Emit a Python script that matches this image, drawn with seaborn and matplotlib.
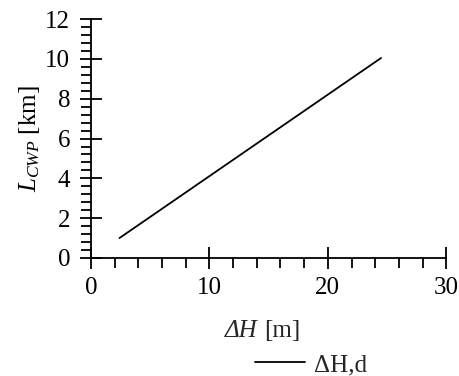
import matplotlib
matplotlib.use("Agg")
import matplotlib.pyplot as plt
import seaborn as sns
import pandas as pd
from matplotlib.ticker import MultipleLocator

# data
delta_h = [2.4, 24.5]
l_cwp = [1.0, 10.05]
series_name = "ΔH,d"

df = pd.DataFrame({"dH": delta_h, "L": l_cwp, "serie": series_name})

sns.set_style("ticks")
plt.rcParams['font.family'] = 'serif'
plt.rcParams['font.serif'] = ['Liberation Serif', 'Times New Roman', 'DejaVu Serif']
plt.rcParams['mathtext.fontset'] = 'custom'
plt.rcParams['mathtext.rm'] = 'Liberation Serif'
plt.rcParams['mathtext.it'] = 'Liberation Serif:italic'

fig = plt.figure(figsize=(4.6, 3.76), dpi=100)
ax = fig.add_axes([0.198, 0.314, 0.772, 0.635])

sns.lineplot(data=df, x="dH", y="L", hue="serie", palette=["black"],
             linewidth=1.3, ax=ax)

ax.set_xlim(0, 30)
ax.set_ylim(0, 12)
ax.xaxis.set_major_locator(MultipleLocator(10))
ax.xaxis.set_minor_locator(MultipleLocator(2))
ax.yaxis.set_major_locator(MultipleLocator(2))
ax.yaxis.set_minor_locator(MultipleLocator(0.4))

ax.tick_params(which="major", direction="inout", length=16, width=1.3,
               labelsize=18, color="black", labelcolor="black")
ax.tick_params(which="minor", direction="out", length=7, width=1.3, color="black")
ax.tick_params(axis="x", pad=6)
ax.tick_params(axis="y", pad=7)

for s in ["top", "right"]:
    ax.spines[s].set_visible(False)
for s in ["left", "bottom"]:
    ax.spines[s].set_color("black")
    ax.spines[s].set_linewidth(1.3)

# x label: italic "ΔH" followed by upright "[m]"
ax.set_xlabel("")
fig.text(0.560, 0.104, "ΔH", fontsize=18, fontstyle="italic", ha="right", va="baseline")
fig.text(0.574, 0.104, "[m]", fontsize=18, ha="left", va="baseline")
ax.set_ylabel(r"$L_{CWP}$ [km]", fontsize=18, color="black", labelpad=2)

ax.legend(loc="center left", bbox_to_anchor=(0.555, 0.03),
          bbox_transform=fig.transFigure, frameon=False, fontsize=18,
          handlelength=2.0, handletextpad=0.35, borderpad=0, borderaxespad=0)

fig.savefig("out.png", dpi=100)
